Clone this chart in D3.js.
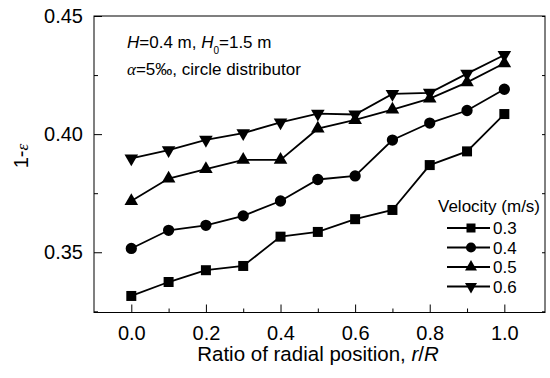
<!DOCTYPE html>
<html>
<head>
<meta charset="utf-8">
<script src="https://cdn.jsdelivr.net/npm/d3@7"></script>
<style>
  body { margin: 0; background: #fff; }
  text { font-family: "Liberation Sans", Arial, sans-serif; fill: #000; }
</style>
</head>
<body>
<svg id="chart" width="550" height="378"></svg>
<script>
// radial positions r/R
const positions = [0.0, 0.1, 0.2, 0.3, 0.4, 0.5, 0.6, 0.7, 0.8, 0.9, 1.0];
// 1-epsilon for each superficial velocity (m/s)
const v03 = [0.3315, 0.3374, 0.3424, 0.3442, 0.3566, 0.3586, 0.3640, 0.3679, 0.3869, 0.3927, 0.4085];
const v04 = [0.3516, 0.3593, 0.3614, 0.3654, 0.3717, 0.3808, 0.3823, 0.3975, 0.4047, 0.4100, 0.4190];
const v05 = [0.3717, 0.3812, 0.3852, 0.3891, 0.3891, 0.4023, 0.4060, 0.4104, 0.4150, 0.4219, 0.4300];
const v06 = [0.3897, 0.3932, 0.3976, 0.4004, 0.4050, 0.4087, 0.4083, 0.4170, 0.4175, 0.4256, 0.4335];
const seriesNames = ["0.3", "0.4", "0.5", "0.6"];
const xTicks = [0.0, 0.2, 0.4, 0.6, 0.8, 1.0];
const xMinorTicks = [0.1, 0.3, 0.5, 0.7, 0.9];
const yTicks = [0.35, 0.40, 0.45];
const yMinorTicks = [0.325, 0.375, 0.425];

function drawChart() {
  const svg = d3.select("#chart");
  const left = 94, right = 545, top = 16, bottom = 312.5;

  const xScale = d3.scaleLinear().domain([-0.1, 1.109]).range([left, right]);
  const yScale = d3.scaleLinear().domain([0.3245, 0.45]).range([bottom, top]);

  const allSeries = [v03, v04, v05, v06];
  const symbols = [
    { type: d3.symbolSquare, size: 100, rot: 0 },
    { type: d3.symbolCircle, size: 100, rot: 0 },
    { type: d3.symbolTriangle, size: 80, rot: 0 },
    { type: d3.symbolTriangle, size: 80, rot: 180 }
  ];

  // frame
  svg.append("rect")
    .attr("x", left).attr("y", top)
    .attr("width", right - left).attr("height", bottom - top)
    .attr("fill", "none").attr("stroke", "#000").attr("stroke-width", 1);

  // x axis, ticks pointing inward
  const xAxis = svg.append("g")
    .attr("transform", "translate(0," + bottom + ")")
    .call(d3.axisBottom(xScale).tickValues(xTicks).tickFormat(d3.format(".1f"))
      .tickSizeInner(-8).tickSizeOuter(0).tickPadding(13));
  svg.append("g")
    .attr("transform", "translate(0," + bottom + ")")
    .call(d3.axisBottom(xScale).tickValues(xMinorTicks).tickFormat("")
      .tickSizeInner(-4).tickSizeOuter(0));

  // y axis
  const yAxis = svg.append("g")
    .attr("transform", "translate(" + left + ",0)")
    .call(d3.axisLeft(yScale).tickValues(yTicks).tickFormat(d3.format(".2f"))
      .tickSizeInner(-8).tickSizeOuter(0).tickPadding(11));
  svg.append("g")
    .attr("transform", "translate(" + left + ",0)")
    .call(d3.axisLeft(yScale).tickValues(yMinorTicks).tickFormat("")
      .tickSizeInner(-4).tickSizeOuter(0));
  // right side short ticks
  svg.append("g")
    .attr("transform", "translate(" + right + ",0)")
    .call(d3.axisRight(yScale).tickValues(yTicks.concat(yMinorTicks)).tickFormat("")
      .tickSizeInner(-3).tickSizeOuter(0));

  svg.selectAll(".domain").remove();
  svg.selectAll(".tick line").attr("stroke", "#000");
  svg.selectAll(".tick text")
    .style("font-family", "'Liberation Sans', Arial, sans-serif")
    .style("font-size", "20px").attr("fill", "#000");

  // lines and markers
  const line = d3.line()
    .x((d, i) => xScale(positions[i]))
    .y(d => yScale(d));

  allSeries.forEach((vals, k) => {
    svg.append("path")
      .datum(vals)
      .attr("fill", "none")
      .attr("stroke", "#000")
      .attr("stroke-width", 1.8)
      .attr("d", line);

    const sym = d3.symbol().type(symbols[k].type).size(symbols[k].size);
    svg.append("g").selectAll("path")
      .data(vals)
      .join("path")
      .attr("d", sym)
      .attr("fill", "#000")
      .attr("transform", (d, i) => "translate(" + xScale(positions[i]) + "," + yScale(d) + ") rotate(" + symbols[k].rot + ")");
  });

  // axis titles
  const xt = svg.append("text")
    .attr("x", 318).attr("y", 361)
    .attr("text-anchor", "middle")
    .style("font-size", "20.5px")
    .text("Ratio of radial position, ");
  xt.append("tspan").style("font-style", "italic").text("r");
  xt.append("tspan").text("/");
  xt.append("tspan").style("font-style", "italic").text("R");

  const yt = svg.append("text")
    .attr("transform", "translate(28,156) rotate(-90)")
    .attr("text-anchor", "middle")
    .style("font-size", "20px")
    .text("1-");
  yt.append("tspan")
    .style("font-style", "italic")
    .style("font-family", "'Liberation Serif', serif")
    .style("font-size", "17px")
    .text("ε");

  // annotation
  const a1 = svg.append("text").attr("x", 127).attr("y", 48).style("font-size", "17px");
  a1.append("tspan").style("font-style", "italic").text("H");
  a1.append("tspan").text("=0.4 m, ");
  a1.append("tspan").style("font-style", "italic").text("H");
  a1.append("tspan").attr("dy", 6).style("font-size", "10px").text("0");
  a1.append("tspan").attr("dy", -6).text("=1.5 m");

  const a2 = svg.append("text").attr("x", 127).attr("y", 75).style("font-size", "17px");
  a2.append("tspan").style("font-style", "italic")
    .style("font-family", "'Liberation Serif', serif").text("α");
  a2.append("tspan").text("=5‰, circle distributor");

  // legend
  const legend = svg.append("g");
  legend.append("text").attr("x", 438).attr("y", 212)
    .style("font-size", "17px").text("Velocity (m/s)");
  const rowY = [228, 247.5, 267, 286.5];
  const legendSize = [81, 80, 62, 62];
  seriesNames.forEach((name, k) => {
    const g = legend.append("g").attr("transform", "translate(0," + rowY[k] + ")");
    g.append("line").attr("x1", 447).attr("x2", 490)
      .attr("stroke", "#000").attr("stroke-width", 1.8);
    g.append("path")
      .attr("d", d3.symbol().type(symbols[k].type).size(legendSize[k]))
      .attr("fill", "#000")
      .attr("transform", "translate(471,0) rotate(" + symbols[k].rot + ")");
    g.append("text").attr("x", 493).attr("dy", "0.36em")
      .style("font-size", "17px").text(name);
  });
}

drawChart();
</script>
</body>
</html>
